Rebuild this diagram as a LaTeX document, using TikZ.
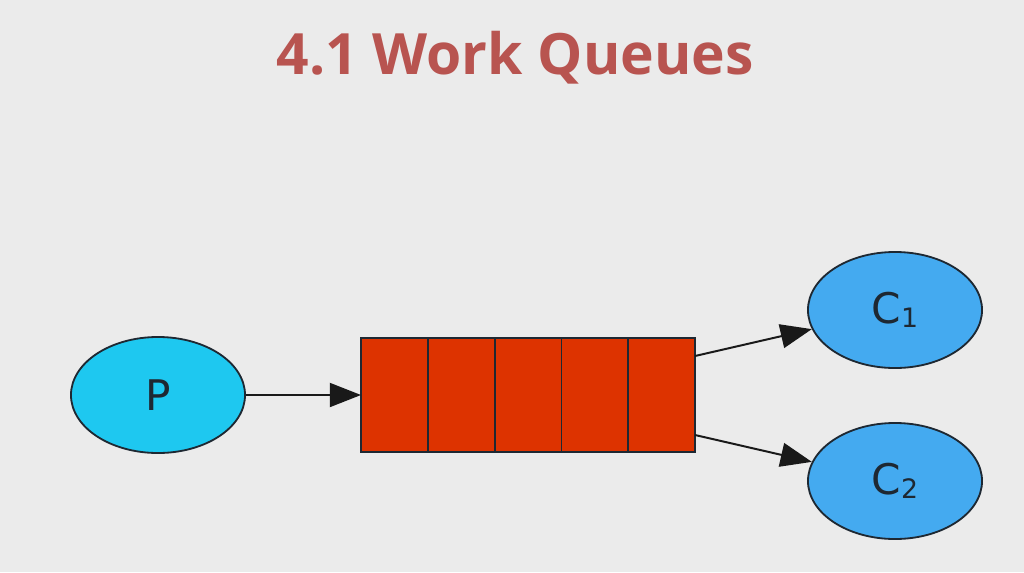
\documentclass[tikz,border=0pt]{standalone}
\usepackage{fontspec}
\setmainfont{Open Sans}
\newfontfamily\labelfont{DejaVu Sans}
\usepackage{tikz}
\usetikzlibrary{positioning,shapes.geometric,arrows.meta}
\definecolor{bgcol}{RGB}{235,235,235}
\definecolor{titlecol}{RGB}{184,84,80}
\definecolor{prodcol}{RGB}{30,200,240}
\definecolor{conscol}{RGB}{68,170,240}
\definecolor{cellcol}{RGB}{221,51,0}
\definecolor{inkcol}{RGB}{30,40,50}
\newcommand{\idx}[1]{\raisebox{-0.2ex}{\fontsize{19}{19}\selectfont #1}}
\tikzset{
  title/.style={font=\fontsize{40.5}{44}\selectfont\bfseries, text=titlecol},
  agent/.style={ellipse, draw=inkcol, line width=1.3pt, inner sep=0pt,
    minimum width=4.35cm, minimum height=2.9cm, text=inkcol,
    font=\labelfont\fontsize{30}{32}\selectfont},
  producer/.style={agent, fill=prodcol},
  consumer/.style={agent, fill=conscol},
  cell/.style={rectangle, draw=inkcol, line width=1.3pt, fill=cellcol, inner sep=0pt,
    outer sep=0pt, minimum width=1.67cm, minimum height=2.85cm},
  arrow/.style={-{Triangle[length=0.78cm,width=0.6cm]}, draw=black!90, line width=1.4pt}
}

\begin{document}
\begin{tikzpicture}[x=0.025cm,y=-0.025cm]
  \fill[bgcol] (0,0) rectangle (1024,572);
  \useasboundingbox (0,0) rectangle (1024,572);
  \node[title, anchor=base] (head) at (515,74) {4.1 Work Queues};
  \node[producer] (p) at (158,395) {P};
  \node[consumer] (c1) at (895,310) {C\idx{1}};
  \node[consumer] (c2) at (895,481) {C\idx{2}};
  % the queue, five cells side by side
  \node[cell] (q1) at (394.4,395) {};
  \node[cell, right=0pt of q1] (q2) {};
  \node[cell, right=0pt of q2] (q3) {};
  \node[cell, right=0pt of q3] (q4) {};
  \node[cell, right=0pt of q4] (q5) {};
  \draw[arrow] (p) -- (q1);
  \draw[arrow] ([yshift=0.975cm]q5.east) -- (c1);
  \draw[arrow] ([yshift=-1cm]q5.east) -- (c2);
\end{tikzpicture}
\end{document}
